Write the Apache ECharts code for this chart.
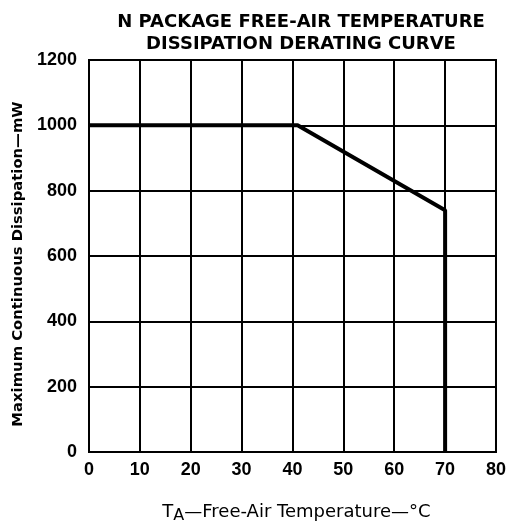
<!DOCTYPE html>
<html>
<head>
<meta charset="utf-8">
<script src="https://cdn.jsdelivr.net/npm/echarts@6/dist/echarts.min.js"></script>
<style>html,body{margin:0;padding:0;background:#fff;}#c{width:509px;height:529px;}</style>
</head>
<body>
<div id="c"></div>
<script>
var titleLines = ["N PACKAGE FREE-AIR TEMPERATURE", "DISSIPATION DERATING CURVE"];
var xTicks = [0, 10, 20, 30, 40, 50, 60, 70, 80];
var yTicks = [0, 200, 400, 600, 800, 1000, 1200];
var curveTemp = [0, 41, 70, 70];
var curvePower = [1000, 1000, 740, 0];

var chart = echarts.init(document.getElementById('c'), null, {renderer: 'canvas'});
var font = '"Liberation Sans", Arial, Helvetica, sans-serif';
var wide = '"DejaVu Sans", sans-serif';
var data = curveTemp.map(function (t, i) { return [t, curvePower[i]]; });
chart.setOption({
  animation: false,
  backgroundColor: '#fff',
  title: {
    text: titleLines.join('\n'),
    left: 296, top: 6, textAlign: 'center',
    textStyle: {fontFamily: wide, fontWeight: 'bold', fontSize: 18, lineHeight: 22, color: '#000'}
  },
  grid: {left: 89, right: 10, top: 60, bottom: 67, show: true, borderColor: '#000', borderWidth: 2},
  xAxis: {
    type: 'value', min: xTicks[0], max: xTicks[xTicks.length - 1], interval: 10,
    axisLine: {show: true, lineStyle: {color: '#000', width: 2}},
    axisTick: {show: false},
    splitLine: {show: true, lineStyle: {color: '#000', width: 2}},
    axisLabel: {margin: 9, color: '#000', fontFamily: font, fontWeight: 'bold', fontSize: 18,
      formatter: function (v) { return String(v); }},
    name: '{t|T}{s|A}{t|—Free-Air Temperature—°C}',
    nameLocation: 'middle', nameGap: 48,
    nameTextStyle: {
      padding: [0, 0, 0, 8],
      rich: {
        t: {fontFamily: wide, fontSize: 18, color: '#000'},
        s: {fontFamily: wide, fontSize: 16, color: '#000', padding: [8, 0, 0, 0]}
      }
    }
  },
  yAxis: {
    type: 'value', min: yTicks[0], max: yTicks[yTicks.length - 1], interval: 200,
    axisLine: {show: true, lineStyle: {color: '#000', width: 2}},
    axisTick: {show: false},
    splitLine: {show: true, lineStyle: {color: '#000', width: 2}},
    axisLabel: {margin: 12, color: '#000', fontFamily: font, fontWeight: 'bold', fontSize: 18,
      formatter: function (v) { return String(v); }},
    name: 'Maximum Continuous Dissipation—mW',
    nameLocation: 'middle', nameRotate: 90, nameGap: 62,
    nameTextStyle: {fontFamily: wide, fontWeight: 'bold', fontSize: 14.8, color: '#000', padding: [0, 16, 0, 0]}
  },
  series: [{
    type: 'line', data: data, showSymbol: false, symbol: 'none',
    lineStyle: {color: '#000', width: 4}
  }]
});
</script>
</body>
</html>
